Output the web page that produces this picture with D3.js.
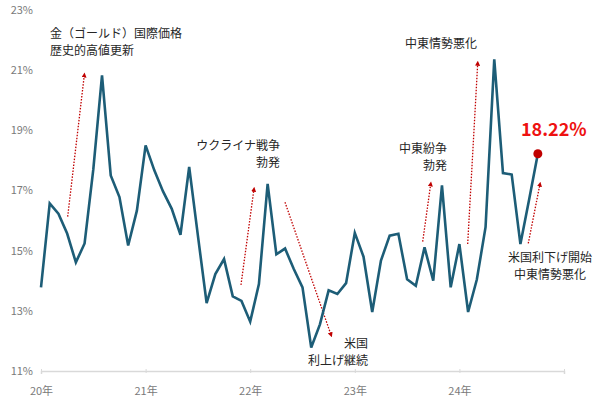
<!DOCTYPE html>
<html>
<head>
<meta charset="utf-8">
<script src="https://cdn.jsdelivr.net/npm/d3@7"></script>
<style>
  body { margin: 0; background: #fff; }
  svg text { font-family: "Noto Sans CJK JP", "Noto Sans", sans-serif; }
</style>
</head>
<body>
<div id="chart"></div>
<script>
// monthly values, Jan 2020 .. Oct 2024 (%)
var values = [
  13.78, 16.57, 16.23, 15.57, 14.61, 15.24, 17.7, 20.83, 17.5, 16.78, 15.17, 16.33,
  18.5, 17.67, 16.97, 16.39, 15.53, 17.78, 15.5, 13.26, 14.22, 14.72, 13.48, 13.33,
  12.64, 13.89, 17.22, 14.88, 15.07, 14.39, 13.78, 11.78, 12.55, 13.68, 13.56, 13.92,
  15.59, 14.8, 12.96, 14.67, 15.5, 15.56, 14.05, 13.83, 15.11, 14.0, 17.17, 13.78,
  15.22, 12.96, 14.04, 15.78, 21.36, 17.58, 17.53, 15.22, 16.7, 18.22
];
var yearLabels = ["20年", "21年", "22年", "23年", "24年"];
var yTicks = [11, 13, 15, 17, 19, 21, 23];
var lastLabel = "18.22%";

// annotation arrows: [month from, value from, month to, value to]
var arrows = [
  [3.06, 16.13, 4.97, 20.84],
  [22.94, 13.86, 24.43, 17.04],
  [27.99, 16.61, 33.27, 12.2],
  [43.79, 15.3, 44.71, 17.22],
  [48.95, 15.22, 50.1, 21.23],
  [55.9, 15.24, 57.24, 17.21]
];
var notes = [
  {lines: ["金（ゴールド）国際価格", "歴史的高値更新"], m: 1.03, v: 22.07, anchor: "start"},
  {lines: ["ウクライナ戦争", "勃発"], m: 27.42, v: 18.33, anchor: "end"},
  {lines: ["米国", "利上げ継続"], m: 37.51, v: 11.75, anchor: "end"},
  {lines: ["中東紛争", "勃発"], m: 46.58, v: 18.26, anchor: "end"},
  {lines: ["中東情勢悪化"], m: 41.76, v: 21.75, anchor: "start"},
  {lines: ["米国利下げ開始", "中東情勢悪化"], m: 58.39, v: 14.61, anchor: "middle"}
];

var width = 600, height = 397;
var svg = d3.select("#chart").append("svg")
  .attr("width", width)
  .attr("height", height);

var x = d3.scaleLinear().domain([0, 60]).range([41, 564]);
var y = d3.scaleLinear().domain([11, 23]).range([371, 10]);

var defs = svg.append("defs");
defs.append("marker")
  .attr("id", "arrow")
  .attr("viewBox", "0 0 10 10")
  .attr("refX", 5).attr("refY", 5)
  .attr("markerWidth", 5).attr("markerHeight", 5)
  .attr("markerUnits", "userSpaceOnUse")
  .attr("orient", "auto")
  .append("path")
  .attr("d", "M0,0L10,5L0,10z")
  .attr("fill", "#c00000");

// y labels
svg.append("g").selectAll("text")
  .data(yTicks)
  .join("text")
  .attr("x", 33)
  .attr("y", function(d) { return y(d); })
  .attr("dy", "0.35em")
  .attr("text-anchor", "end")
  .attr("font-size", 11)
  .attr("fill", "#7a7a7a")
  .text(function(d) { return d + "%"; });

// x axis
var xAxis = svg.append("g")
  .attr("transform", "translate(0," + y(11) + ")")
  .call(d3.axisBottom(x).tickValues([0, 12, 24, 36, 48, 60]).tickSize(3).tickFormat(function(d, i) { return yearLabels[i] || ""; }));
xAxis.select(".domain").attr("stroke", "#d9d9d9").attr("stroke-width", 1.5);
xAxis.selectAll(".tick line").attr("stroke", "#d9d9d9").attr("y1", -2).attr("y2", 2);
xAxis.selectAll(".tick text")
  .attr("y", 16)
  .attr("font-size", 11)
  .attr("fill", "#7a7a7a")
  .attr("font-family", "\"Noto Sans CJK JP\", sans-serif");

// annotation arrows
svg.append("g").selectAll("line")
  .data(arrows)
  .join("line")
  .attr("x1", function(d) { return x(d[0]); })
  .attr("y1", function(d) { return y(d[1]); })
  .attr("x2", function(d) { return x(d[2]); })
  .attr("y2", function(d) { return y(d[3]); })
  .attr("stroke", "#c00000")
  .attr("stroke-width", 1.3)
  .attr("stroke-dasharray", "1.5,1.5")
  .attr("marker-end", "url(#arrow)");

// line
var line = d3.line()
  .x(function(d, i) { return x(i); })
  .y(function(d) { return y(d); });

svg.append("path")
  .datum(values)
  .attr("d", line)
  .attr("fill", "none")
  .attr("stroke", "#1d5d77")
  .attr("stroke-width", 2.6)
  .attr("stroke-linejoin", "miter");

// last point
var last = values.length - 1;
svg.append("circle")
  .attr("cx", x(last))
  .attr("cy", y(values[last]))
  .attr("r", 4.5)
  .attr("fill", "#c00000");

svg.append("text")
  .attr("x", x(last) + 16)
  .attr("y", y(values[last]) - 18)
  .attr("text-anchor", "middle")
  .attr("font-size", 18)
  .attr("font-weight", "bold")
  .attr("fill", "#ee1111")
  .text(lastLabel);

// notes, one text per line
var noteLines = [];
notes.forEach(function(d) {
  d.lines.forEach(function(s, i) {
    noteLines.push({text: s, m: d.m, v: d.v, i: i, anchor: d.anchor});
  });
});
svg.append("g").selectAll("text")
  .data(noteLines)
  .join("text")
  .attr("font-size", 12)
  .attr("fill", "#262626")
  .attr("text-anchor", function(d) { return d.anchor; })
  .attr("x", function(d) { return x(d.m); })
  .attr("y", function(d) { return y(d.v) + d.i * 17; })
  .text(function(d) { return d.text; });
</script>
</body>
</html>
